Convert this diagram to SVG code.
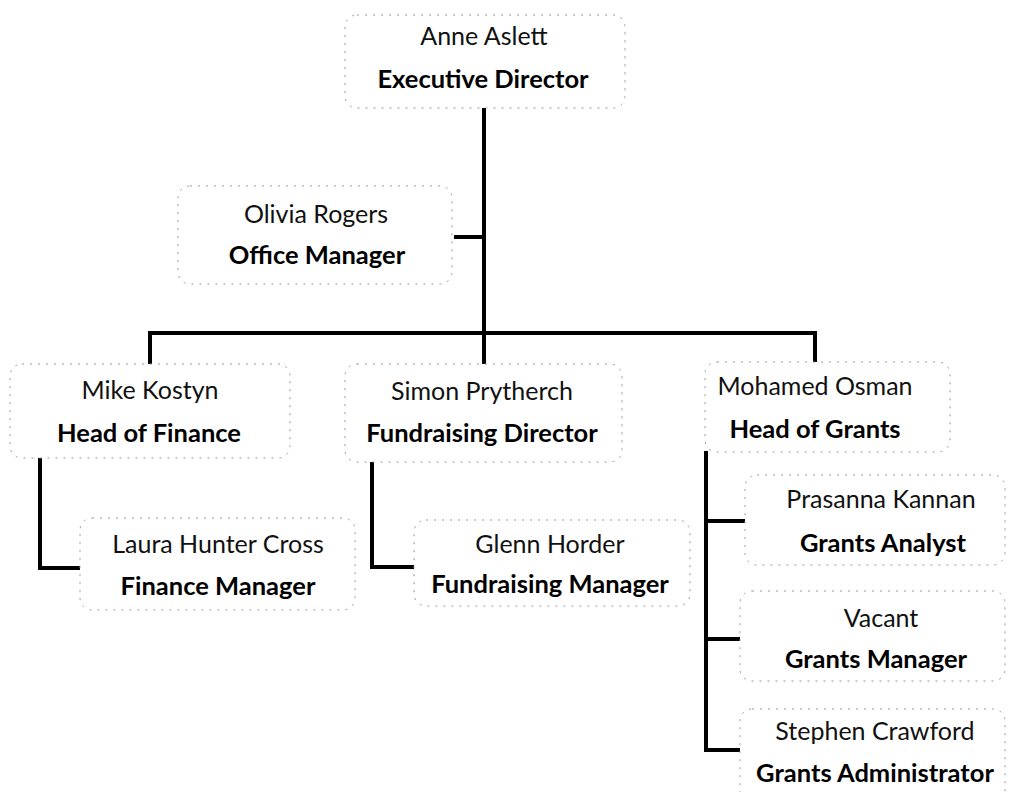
<svg xmlns="http://www.w3.org/2000/svg" width="1011" height="792" viewBox="0 0 1011 792">
<style>
.box{fill:#fff;stroke:#999;stroke-width:1;stroke-dasharray:2 6}
.n{font-family:Lato,"Open Sans",sans-serif;font-size:25px;fill:#111;text-anchor:middle}
.t{font-family:Lato,"Open Sans",sans-serif;font-size:25.5px;font-weight:bold;fill:#000;text-anchor:middle}
.c{fill:none;stroke:#000;stroke-width:4;stroke-linejoin:miter;stroke-linecap:square}
</style>
<rect width="1011" height="792" fill="#fff"/>
<g id="connectors">
<path class="c" d="M484 110 V362"/>
<path class="c" d="M456 237 H484"/>
<path class="c" d="M150 362 V333 H815 V360"/>
<path class="c" d="M40 460 V568 H80"/>
<path class="c" d="M372 463 V567 H414"/>
<path class="c" d="M706 453 V750 H742"/>
<path class="c" d="M706 521 H744"/>
<path class="c" d="M706 639 H740"/>
</g>
<g id="anne"><rect class="box" x="345" y="15" width="280" height="93" rx="12"/><text class="n" x="484" y="45">Anne Aslett</text><text class="t" x="483" y="88">Executive Director</text></g>
<g id="olivia"><rect class="box" x="178" y="186" width="274" height="98" rx="12"/><text class="n" x="316" y="223">Olivia Rogers</text><text class="t" x="317" y="264">Office Manager</text></g>
<g id="mike"><rect class="box" x="10" y="364" width="280" height="94" rx="12"/><text class="n" x="150" y="399">Mike Kostyn</text><text class="t" x="149" y="442">Head of Finance</text></g>
<g id="simon"><rect class="box" x="345" y="364" width="277" height="98" rx="12"/><text class="n" x="482" y="400">Simon Prytherch</text><text class="t" x="482" y="442">Fundraising Director</text></g>
<g id="mohamed"><rect class="box" x="705" y="362" width="245" height="90" rx="12"/><text class="n" x="815" y="395">Mohamed Osman</text><text class="t" x="815" y="438">Head of Grants</text></g>
<g id="laura"><rect class="box" x="80" y="518" width="275" height="92" rx="12"/><text class="n" x="218" y="553">Laura Hunter Cross</text><text class="t" x="218" y="595">Finance Manager</text></g>
<g id="glenn"><rect class="box" x="414" y="520" width="276" height="86" rx="12"/><text class="n" x="550" y="553">Glenn Horder</text><text class="t" x="550" y="593">Fundraising Manager</text></g>
<g id="prasanna"><rect class="box" x="745" y="475" width="260" height="90" rx="12"/><text class="n" x="881" y="508">Prasanna Kannan</text><text class="t" x="883" y="552">Grants Analyst</text></g>
<g id="vacant"><rect class="box" x="740" y="591" width="265" height="90" rx="12"/><text class="n" x="881" y="627">Vacant</text><text class="t" x="876" y="668">Grants Manager</text></g>
<g id="stephen"><rect class="box" x="740" y="709" width="265" height="95" rx="12"/><text class="n" x="875" y="740">Stephen Crawford</text><text class="t" x="875" y="782">Grants Administrator</text></g>
</svg>
